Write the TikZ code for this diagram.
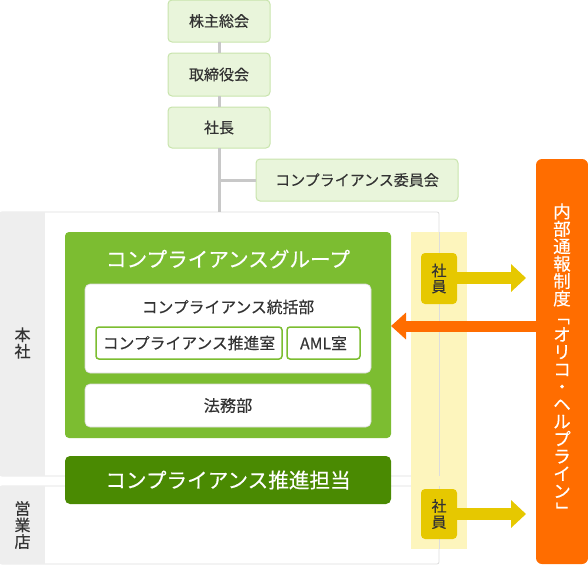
\documentclass[tikz,border=0pt]{standalone}
\usepackage{fontspec}
\setmainfont[FakeBold=0.35]{Noto Sans CJK JP}
\usetikzlibrary{arrows.meta}
\definecolor{lgfill}{HTML}{E9F5DB}
\definecolor{lgdraw}{HTML}{C8E4AC}
\definecolor{lineg}{HTML}{C8C8C8}
\definecolor{grpgreen}{HTML}{7CBD31}
\definecolor{dkgreen}{HTML}{4A8A02}
\definecolor{bandyel}{HTML}{FDF5BD}
\definecolor{shainyel}{HTML}{E6C800}
\definecolor{orng}{HTML}{FF6D00}
\definecolor{sidegray}{HTML}{EEEEEE}
\definecolor{bordgray}{HTML}{DDDDDD}
\definecolor{txt}{HTML}{333333}
\begin{document}
\begin{tikzpicture}[x=1pt,y=-1pt,
  every node/.style={inner sep=0pt,outer sep=0pt,text=txt},
  topbox/.style={draw=lgdraw,fill=lgfill,rounded corners=4pt,line width=1pt,font=\fontsize{15}{17}\selectfont},
  regionbox/.style={draw=bordgray,fill=white,line width=0.8pt,rounded corners=2pt},
  sidelbl/.style={align=center,font=\fontsize{16}{16.5}\selectfont},
  whitebox/.style={fill=white,draw=white!85!black,line width=0.6pt,rounded corners=5pt},
  subbox/.style={fill=white,draw=grpgreen,line width=1.5pt,rounded corners=3pt,font=\fontsize{15.8}{17}\selectfont},
  shainbox/.style={fill=shainyel,rounded corners=4pt,align=center,font=\fontsize{15}{16}\selectfont},
  yarrow/.style={draw=shainyel,line width=12pt,-{Triangle[width=27pt,length=15pt]}},
  oarrow/.style={draw=orng,line width=11pt,-{Triangle[width=26pt,length=15pt]}},
  conn/.style={draw=lineg,line width=3pt}
]
\useasboundingbox (0,0) rectangle (588,565);
% regions
\node[regionbox,minimum width=439pt,minimum height=264pt] (honsha) at (219.5,344) {};
\node[regionbox,minimum width=439pt,minimum height=78pt] (eigyo) at (219.5,525) {};
\fill[sidegray] (0.4,212.4) rectangle (45,475.6);
\fill[sidegray] (0.4,486.4) rectangle (45,563.6);
\node[sidelbl] (lblhonsha) at (22.5,343) {本\\社};
\node[sidelbl] (lbleigyo) at (22.5,525) {営\\業\\店};
% top chain
\coordinate (chainend) at (219,212);
\node[topbox,minimum width=102pt,minimum height=42pt] (kabu) at (219,21) {株主総会};
\node[topbox,minimum width=102pt,minimum height=43pt] (tori) at (219,74.5) {取締役会};
\node[topbox,minimum width=102pt,minimum height=41pt] (shacho) at (219,127.5) {社長};
\node[topbox,minimum width=202pt,minimum height=42pt] (iinkai) at (357,180) {コンプライアンス委員会};
\coordinate (branch) at (219,180);
\draw[conn] (kabu.south) -- (tori.north);
\draw[conn] (tori.south) -- (shacho.north);
\draw[conn] (shacho.south) -- (chainend);
\draw[conn] (branch) -- (iinkai.west);
% yellow band
\fill[bandyel] (411,232) rectangle (467,549);
\draw[bordgray,line width=0.8pt] (439,232) -- (439,475.6);
\draw[bordgray,line width=0.8pt] (439,486.4) -- (439,549);
% group
\node[fill=grpgreen,rounded corners=4pt,minimum width=326pt,minimum height=206pt] (group) at (228,335) {};
\node[text=white,font=\fontsize{20.6}{22}\selectfont] (grptitle) at (228,259) {コンプライアンスグループ};
\node[whitebox,minimum width=286pt,minimum height=89pt] (tokatsu) at (228,328.5) {};
\node[font=\fontsize{15.8}{17}\selectfont] (tokatsulbl) at (228,307) {コンプライアンス統括部};
\node[subbox,minimum width=186pt,minimum height=32pt] (suishin) at (189,343) {コンプライアンス推進室};
\node[subbox,minimum width=73pt,minimum height=32pt] (aml) at (323.5,343) {AML室};
\node[whitebox,minimum width=286pt,minimum height=43pt,font=\fontsize{16.2}{17}\selectfont] (homu) at (228,405.5) {法務部};
\node[fill=dkgreen,rounded corners=5pt,minimum width=326pt,minimum height=48pt,text=white,font=\fontsize{20.6}{22}\selectfont] (tanto) at (228,480) {コンプライアンス推進担当};
% shain
\node[shainbox,minimum width=36pt,minimum height=51pt] (shain1) at (439,278.5) {社\\員};
\node[shainbox,minimum width=36pt,minimum height=50pt] (shain2) at (439,514) {社\\員};
% orange
\node[fill=orng,rounded corners=6pt,minimum width=52pt,minimum height=405pt,text=white,align=center,font=\fontsize{17.5}{17.4}\selectfont] (orange) at (562,361.5)
 {内\\部\\通\\報\\制\\度\\\rotatebox[origin=c]{-90}{「}\\オ\\リ\\コ\\・\\ヘ\\ル\\プ\\ラ\\イ\\ン\\\rotatebox[origin=c]{-90}{」}};
\coordinate (tip1) at (526,278);
\coordinate (tip2) at (526,514);
\coordinate (otip) at (391,326);
\draw[yarrow] (shain1.east |- tip1) -- (tip1);
\draw[yarrow] (shain2.east |- tip2) -- (tip2);
\draw[oarrow] (orange.west |- otip) -- (otip);
\end{tikzpicture}
\end{document}
